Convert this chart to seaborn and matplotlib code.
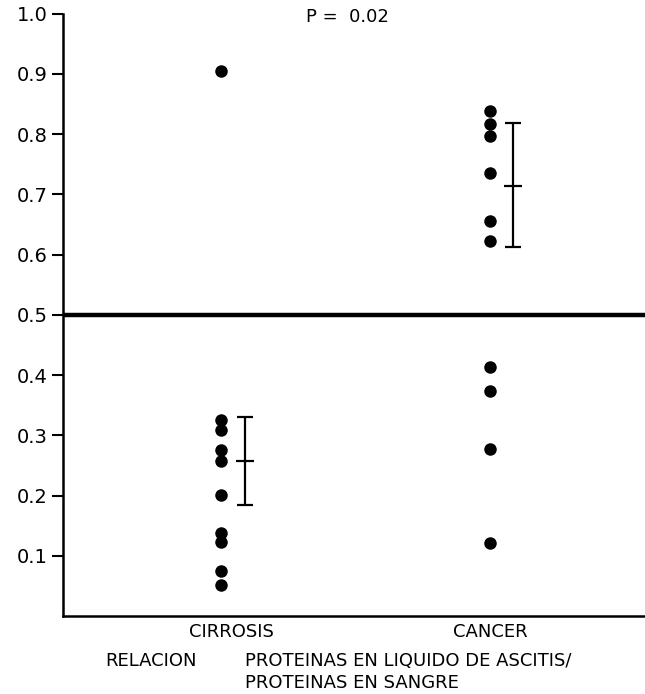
import matplotlib
matplotlib.use("Agg")
import matplotlib.pyplot as plt
import seaborn as sns
import pandas as pd

# Data
cirrosis_vals = [0.905, 0.326, 0.309, 0.275, 0.258, 0.201, 0.138, 0.123, 0.074, 0.051]
cancer_vals = [0.838, 0.816, 0.796, 0.736, 0.655, 0.623, 0.413, 0.374, 0.277, 0.121]
categories = ["CIRROSIS", "CANCER"]
bar_means = [0.257, 0.714]
bar_lows = [0.184, 0.612]
bar_highs = [0.331, 0.819]
y_ticks = [0.1, 0.2, 0.3, 0.4, 0.5, 0.6, 0.7, 0.8, 0.9, 1.0]
y_tick_labels = ["0.1", "0.2", "0.3", "0.4", "0.5", "0.6", "0.7", "0.8", "0.9", "1.0"]
cutoff = 0.5
p_text = "P =  0.02"

sns.set_theme(style="white")
plt.rcParams['font.family'] = ['DejaVu Sans']

df = pd.DataFrame({
    "grupo": ["CIRROSIS"] * len(cirrosis_vals) + ["CANCER"] * len(cancer_vals),
    "valor": cirrosis_vals + cancer_vals,
})

fig = plt.figure(figsize=(6.45, 6.94), dpi=100)
ax = fig.add_axes([0.0977, 0.1124, 0.9023, 0.868])

sns.stripplot(data=df, x="grupo", y="valor", order=categories, jitter=False,
              color="black", size=9, linewidth=0, ax=ax)

# error bars offset to the right of each group
offsets = [0.089, 0.084]
for i, (m, lo, hi) in enumerate(zip(bar_means, bar_lows, bar_highs)):
    xpos = i + offsets[i]
    ax.errorbar([xpos], [m], yerr=[[m - lo], [hi - m]], fmt='none',
                ecolor="black", elinewidth=1.6, capsize=6, capthick=1.6)
    ax.plot([xpos], [m], marker='_', markersize=13, markeredgewidth=1.6, color="black")

ax.axhline(cutoff, color="black", linewidth=3.2)

ax.set_xlim(-0.587, 1.576)
ax.set_ylim(0, 1.0)
ax.set_yticks(y_ticks)
ax.set_yticklabels(y_tick_labels, fontsize=14)
ax.set_xlabel("")
ax.set_ylabel("")
ax.tick_params(axis='y', direction='out', length=8, width=1.5, color='black', left=True, pad=3)
ax.tick_params(axis='x', length=0, labelsize=13, pad=5)
ax.set_xticks([0.04, 1.0])
ax.set_xticklabels(categories)
for lab in ax.get_xticklabels():
    lab.set_color("black")
for lab in ax.get_yticklabels():
    lab.set_color("black")

for side in ["top", "right"]:
    ax.spines[side].set_visible(False)
for side in ["left", "bottom"]:
    ax.spines[side].set_color("black")
    ax.spines[side].set_linewidth(1.8)

fig.text(0.538, 0.975, p_text, ha="center", va="center", fontsize=13, color="black")
fig.text(0.163, 0.048, "RELACION", ha="left", va="center", fontsize=13, color="black")
fig.text(0.38, 0.048, "PROTEINAS EN LIQUIDO DE ASCITIS/", ha="left", va="center",
         fontsize=13, color="black")
fig.text(0.38, 0.016, "PROTEINAS EN SANGRE", ha="left", va="center", fontsize=13, color="black")

fig.savefig("out.png", dpi=100)
